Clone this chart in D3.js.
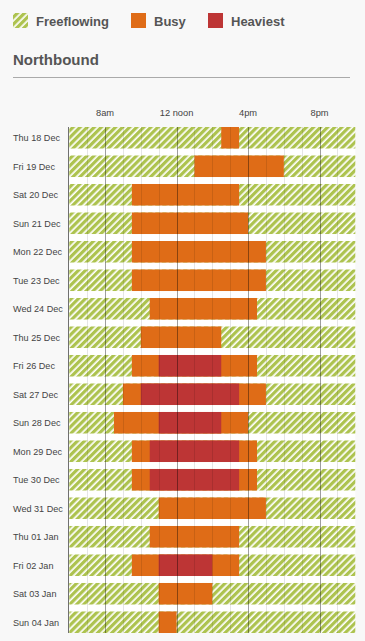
<html>
<head>
<script src="https://d3js.org/d3.v7.min.js"></script>
<style>
  body { margin: 0; background: #f8f8f8; }
  * { font-family: Arial, "Liberation Sans", sans-serif; }
  .legend-text { font-size: 13px; font-weight: bold; fill: #555; }
  .title { font-size: 15px; font-weight: bold; fill: #555; }
  .tick-label { font-size: 9.3px; fill: #444; text-anchor: middle; }
  .day-label { font-size: 9.1px; fill: #444; }
</style>
</head>
<body>
<svg id="chart" width="365" height="641"></svg>
<script>
// data: hours of the day (24h clock), null where there is no such period
const days = ["Thu 18 Dec", "Fri 19 Dec", "Sat 20 Dec", "Sun 21 Dec", "Mon 22 Dec", "Tue 23 Dec",
  "Wed 24 Dec", "Thu 25 Dec", "Fri 26 Dec", "Sat 27 Dec", "Sun 28 Dec", "Mon 29 Dec",
  "Tue 30 Dec", "Wed 31 Dec", "Thu 01 Jan", "Fri 02 Jan", "Sat 03 Jan", "Sun 04 Jan"];
const busyStart = [14.5, 13, 9.5, 9.5, 9.5, 9.5, 10.5, 10, 9.5, 9, 8.5, 9.5, 9.5, 11, 10.5, 9.5, 11, 11];
const busyEnd = [15.5, 18, 15.5, 16, 17, 17, 16.5, 14.5, 16.5, 17, 16, 16.5, 16.5, 17, 15.5, 15.5, 14, 12];
const heavyStart = [null, null, null, null, null, null, null, null, 11, 10, 11, 10.5, 10.5, null, null, 11, null, null];
const heavyEnd = [null, null, null, null, null, null, null, null, 14.5, 15.5, 14.5, 15.5, 15.5, null, null, 14, null, null];
const dayStart = 6, dayEnd = 22;
const tickHours = [8, 12, 16, 20];
const tickLabels = ["8am", "12 noon", "4pm", "8pm"];
const legendItems = ["Freeflowing", "Busy", "Heaviest"];

const colors = { busy: "#df6c17", heavy: "#bd3535", green: "#adc34f" };

const svg = d3.select("#chart");
const defs = svg.append("defs");
const pat = defs.append("pattern")
  .attr("id", "hatch")
  .attr("patternUnits", "userSpaceOnUse")
  .attr("width", 5).attr("height", 10)
  .attr("patternTransform", "rotate(45)");
pat.append("rect").attr("width", 5).attr("height", 10).attr("fill", "#fff");
pat.append("rect").attr("width", 3.3).attr("height", 10).attr("fill", colors.green);

// legend
const legendX = [13, 131, 208];
const legendFill = ["url(#hatch)", colors.busy, colors.heavy];
const legend = svg.append("g");
legendItems.forEach((name, i) => {
  legend.append("rect")
    .attr("x", legendX[i]).attr("y", 13)
    .attr("width", 15).attr("height", 15)
    .attr("fill", legendFill[i]);
  legend.append("text")
    .attr("class", "legend-text")
    .attr("x", legendX[i] + 23).attr("y", 25.5)
    .text(name);
});

// title
svg.append("text").attr("class", "title").attr("x", 13).attr("y", 64.5).text("Northbound");
svg.append("line")
  .attr("x1", 13).attr("x2", 350)
  .attr("y1", 77.5).attr("y2", 77.5)
  .attr("stroke", "#aaa");

// scales
const x = d3.scaleLinear().domain([dayStart, dayEnd]).range([69.3, 355.3]);
const y = d3.scaleBand().domain(days).range([127, 633]).paddingInner(0.245).paddingOuter(0);

svg.append("rect")
  .attr("x", x(dayStart)).attr("y", 127)
  .attr("width", x(dayEnd) - x(dayStart)).attr("height", 633 - 127)
  .attr("fill", "#fff");

// tick labels
svg.selectAll(".tick-label").data(tickHours)
  .join("text")
  .attr("class", "tick-label")
  .attr("x", d => x(d))
  .attr("y", 115.5)
  .text((d, i) => tickLabels[i]);

// day labels
svg.selectAll(".day-label").data(days)
  .join("text")
  .attr("class", "day-label")
  .attr("x", 13)
  .attr("y", d => y(d) + y.bandwidth() / 2 + 3.4)
  .text(d => d);

const rows = svg.append("g");
// freeflowing background
rows.selectAll(".free").data(days)
  .join("rect")
  .attr("class", "free")
  .attr("x", x(dayStart))
  .attr("y", d => y(d))
  .attr("width", x(dayEnd) - x(dayStart))
  .attr("height", y.bandwidth())
  .attr("fill", "url(#hatch)");

// busy
rows.selectAll(".busy").data(days)
  .join("rect")
  .attr("class", "busy")
  .attr("x", (d, i) => x(busyStart[i]))
  .attr("y", d => y(d))
  .attr("width", (d, i) => x(busyEnd[i]) - x(busyStart[i]))
  .attr("height", y.bandwidth())
  .attr("fill", colors.busy);

// heaviest
const heavyDays = days.filter((d, i) => heavyStart[i] !== null);
rows.selectAll(".heavy").data(heavyDays)
  .join("rect")
  .attr("class", "heavy")
  .attr("x", d => x(heavyStart[days.indexOf(d)]))
  .attr("y", d => y(d))
  .attr("width", d => x(heavyEnd[days.indexOf(d)]) - x(heavyStart[days.indexOf(d)]))
  .attr("height", y.bandwidth())
  .attr("fill", colors.heavy);

// hour gridlines on top
const hours = d3.range(dayStart + 1, dayEnd);
svg.append("g").selectAll("line").data(hours)
  .join("line")
  .attr("x1", d => Math.round(x(d)) + 0.5).attr("x2", d => Math.round(x(d)) + 0.5)
  .attr("y1", 127).attr("y2", 633)
  .attr("stroke", d => tickHours.includes(d) ? "rgba(0,0,0,0.38)" : "rgba(0,0,0,0.1)");

svg.append("line")
  .attr("x1", Math.round(x(dayStart)) - 0.5).attr("x2", Math.round(x(dayStart)) - 0.5)
  .attr("y1", 127).attr("y2", 633)
  .attr("stroke", "rgba(0,0,0,0.55)");
</script>
</body>
</html>
